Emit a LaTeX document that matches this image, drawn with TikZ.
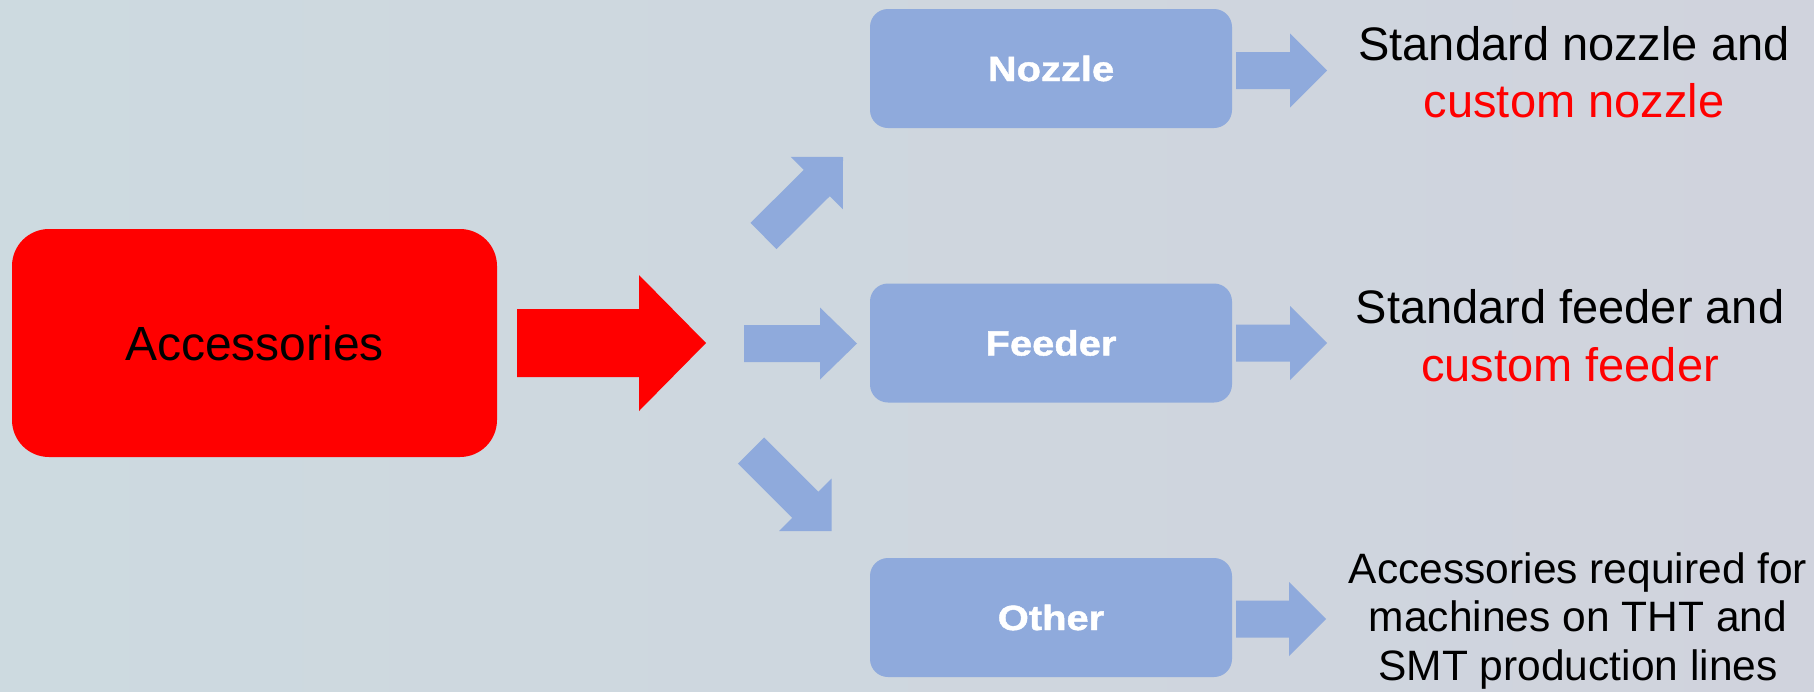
\documentclass[tikz,border=0pt]{standalone}
\usepackage{fontspec}
\setmainfont{Liberation Sans}
\newfontfamily\catfont[FakeBold=1.2]{Liberation Sans Bold}
\usetikzlibrary{calc}
\definecolor{boxblue}{RGB}{143,170,220}
\definecolor{bgleft}{RGB}{205,218,224}
\definecolor{bgright}{RGB}{208,211,221}
\definecolor{pptred}{RGB}{255,0,0}
\newcommand{\blockarrow}[6]{%
  \coordinate (ba-h) at ($(#3)!#6!(#2)$);
  \fill[#1] ($(#2)!#4!90:(#3)$) -- ($(ba-h)!#4!90:(#3)$) -- ($(ba-h)!#5!90:(#3)$) -- (#3)
    -- ($(ba-h)!#5!-90:(#3)$) -- ($(ba-h)!#4!-90:(#3)$) -- ($(#2)!#4!-90:(#3)$) -- cycle;
}
\tikzset{
  accbox/.style={fill=pptred, rounded corners=37pt, inner sep=0pt,
    minimum width=485pt, minimum height=228pt, font=\fontsize{48}{57}\selectfont},
  catbox/.style={fill=boxblue, rounded corners=18pt, inner sep=0pt,
    minimum width=362pt, minimum height=119pt, text=white,
    font=\fontsize{35}{42}\catfont},
  desc/.style={anchor=base, inner sep=0pt, text=black},
  bluearrow/.style={fill=boxblue},
  redarrow/.style={fill=pptred}
}
\newcommand{\catlabel}[1]{\scalebox{1.14}[1]{#1}}
\begin{document}
\begin{tikzpicture}[x=1pt,y=-1pt]
\useasboundingbox (0,0) rectangle (1814,691);
\shade[left color=bgleft, right color=bgright] (0,0) rectangle (1814,691);

% main box and category boxes
\node[accbox] (acc) at (254.5,343) {Accessories};
\node[catbox] (nozzle) at (1051,68.5) {\catlabel{Nozzle}};
\node[catbox] (feeder) at (1051,343) {\catlabel{Feeder}};
\node[catbox] (other) at (1051,617.5) {\catlabel{Other}};

% descriptions
\node[desc, font=\fontsize{47}{57}\selectfont] (t1) at (1574,60)
  {\begin{tabular}[t]{@{}c@{}}Standard nozzle and\\\textcolor{pptred}{custom nozzle}\end{tabular}};
\node[desc, font=\fontsize{47}{58}\selectfont] (t2) at (1570,323)
  {\begin{tabular}[t]{@{}c@{}}Standard feeder and\\\textcolor{pptred}{custom feeder}\end{tabular}};
\node[desc, font=\fontsize{42.5}{48.5}\selectfont] (t3) at (1578,583)
  {\begin{tabular}[t]{@{}c@{}}Accessories required for\\machines on THT and\\SMT production lines\end{tabular}};

% connector end points
\coordinate (redtail) at (517,343);
\coordinate (redtip) at (706,343);
\coordinate (uptail) at (763.5,236);
\coordinate (uptip) at (843,157);
\coordinate (midtail) at (744,343.5);
\coordinate (midtip) at (857,343.5);
\coordinate (dntail) at (751,450.5);
\coordinate (dntip) at (831.5,531);
\coordinate (n1tail) at (1236,70.5);
\coordinate (n1tip) at (1327,70.5);
\coordinate (f1tail) at (1236,343);
\coordinate (f1tip) at (1327,343);
\coordinate (o1tail) at (1236,619);
\coordinate (o1tip) at (1326,619);

% block arrows
\blockarrow{redarrow}{redtail}{redtip}{34pt}{68pt}{67pt}
\blockarrow{bluearrow}{uptail}{uptip}{18.5pt}{37pt}{37pt}
\blockarrow{bluearrow}{midtail}{midtip}{18.5pt}{36pt}{37pt}
\blockarrow{bluearrow}{dntail}{dntip}{18.5pt}{37pt}{37pt}
\blockarrow{bluearrow}{n1tail}{n1tip}{18.5pt}{37pt}{37pt}
\blockarrow{bluearrow}{f1tail}{f1tip}{18.5pt}{37pt}{37pt}
\blockarrow{bluearrow}{o1tail}{o1tip}{18.5pt}{37pt}{37pt}
\end{tikzpicture}
\end{document}
